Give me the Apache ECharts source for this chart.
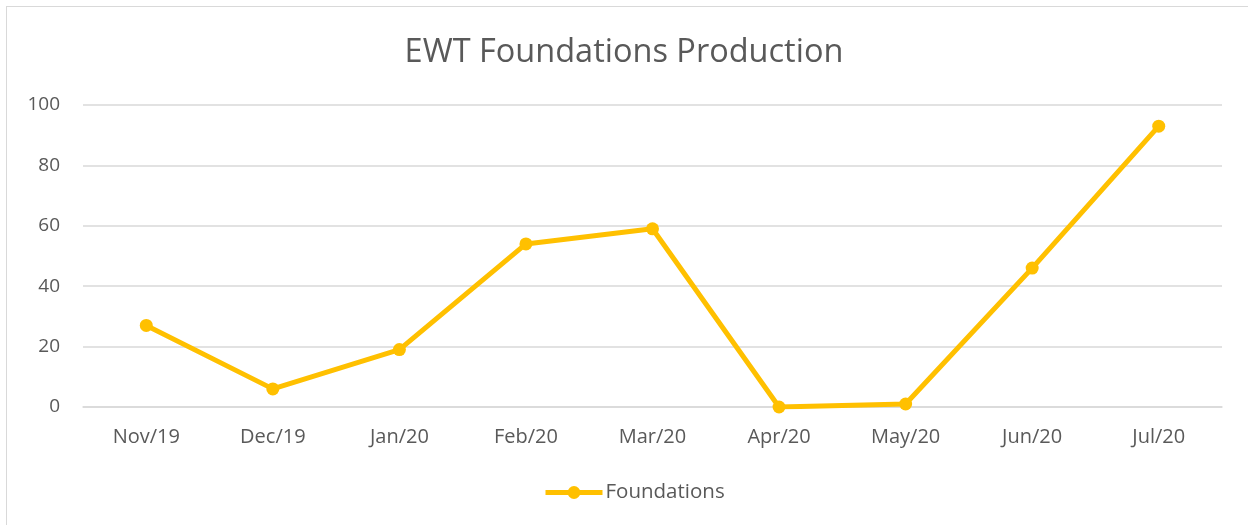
<!DOCTYPE html>
<html>
<head>
<meta charset="utf-8">
<script src="https://cdn.jsdelivr.net/npm/echarts@6/dist/echarts.min.js"></script>
<style>
html,body{margin:0;padding:0;background:#fff;}
#frame{position:absolute;left:6px;top:6px;width:1250px;height:530px;border:1px solid #d9d9d9;box-sizing:border-box;}
#chart{position:absolute;left:0;top:0;width:1248px;height:525px;}
</style>
</head>
<body>
<div id="frame"></div>
<div id="chart"></div>
<script>
const categories = ['Nov/19','Dec/19','Jan/20','Feb/20','Mar/20','Apr/20','May/20','Jun/20','Jul/20'];
const foundations = [27, 6, 19, 54, 59, 0, 1, 46, 93];
const seriesName = 'Foundations';
const titleText = 'EWT Foundations Production';

const chart = echarts.init(document.getElementById('chart'));
const font = '"Open Sans", sans-serif';
chart.setOption({
  animation: false,
  title: {
    text: titleText, left: 'center', top: 31,
    textStyle: {fontFamily: font, fontSize: 32.5, fontWeight: 'normal', color: '#595959'}
  },
  legend: {
    bottom: 17, left: 538,
    itemWidth: 57, itemHeight: 16, itemGap: 4,
    lineStyle: {width: 5, color: '#FFC000'},
    itemStyle: {color: '#FFC000'},
    textStyle: {fontFamily: font, fontSize: 20.5, color: '#595959', padding: [0,0,0,-2]},
    data: [seriesName]
  },
  grid: {left: 83, right: 26, top: 105, bottom: 118},
  xAxis: {
    type: 'category', data: categories, boundaryGap: true,
    axisLine: {lineStyle: {color: '#d9d9d9', width: 1.5}},
    axisTick: {show: false},
    axisLabel: {fontFamily: font, fontSize: 20, color: '#595959', margin: 20}
  },
  yAxis: {
    type: 'value', min: 0, max: 100, interval: 20,
    axisLine: {show: false}, axisTick: {show: false},
    splitLine: {lineStyle: {color: '#d9d9d9', width: 1.5}},
    axisLabel: {fontFamily: font, fontSize: 19, color: '#595959', margin: 23}
  },
  series: [{
    name: seriesName, type: 'line', data: foundations,
    symbol: 'circle', symbolSize: 13,
    lineStyle: {color: '#FFC000', width: 5},
    itemStyle: {color: '#FFC000'}
  }]
});
</script>
</body>
</html>
